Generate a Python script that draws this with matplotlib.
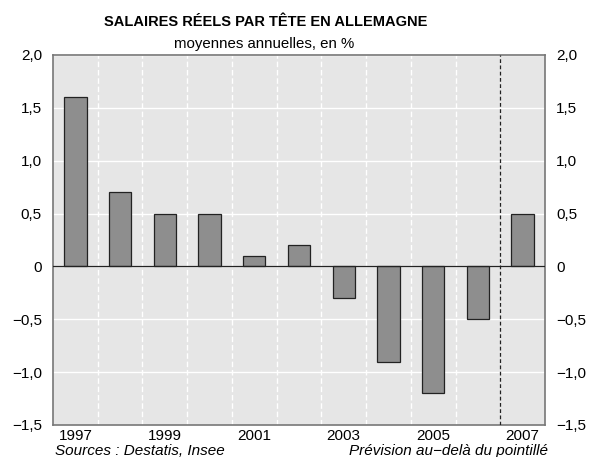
from matplotlib import pyplot as plt
import numpy as np

years = [1997, 1998, 1999, 2000, 2001, 2002, 2003, 2004, 2005, 2006, 2007]
values = [1.6, 0.7, 0.5, 0.5, 0.1, 0.2, -0.3, -0.9, -1.2, -0.5, 0.5]
yticks = [-1.5, -1.0, -0.5, 0, 0.5, 1.0, 1.5, 2.0]
ytick_labels = ["\u22121,5", "\u22121,0", "\u22120,5", "0", "0,5", "1,0", "1,5", "2,0"]

plt.rcParams['font.family'] = ['Liberation Sans', 'DejaVu Sans']

fig = plt.figure(figsize=(5.9, 4.57), dpi=100)
ax = fig.add_axes([53/590, 1 - 425/457, 492/590, 370/457])
ax.set_facecolor("#e6e6e6")

x = np.arange(len(years))
ax.bar(x, values, width=0.5, color="#8e8e8e", edgecolor="#222222", linewidth=0.9, zorder=3)
ax.axhline(0, color="#222222", linewidth=0.9, zorder=4)

for yv in yticks:
	ax.axhline(yv, color="white", linewidth=1.0, zorder=1)
for i in range(len(years) - 2):
	ax.axvline(i + 0.5, color="white", linewidth=1.0, linestyle=(0, (4, 2)), zorder=1)
ax.axvline(len(years) - 1.5, color="#222222", linewidth=0.9, linestyle=(0, (3, 2)), zorder=4)

ax.set_xlim(-0.5, len(years) - 0.5)
ax.set_ylim(-1.5, 2.0)
ax.set_yticks(yticks)
ax.set_yticklabels(ytick_labels)
ax.tick_params(axis="y", length=0, labelsize=11, pad=8, labelright=True, right=False)
ax.set_xticks(x[::2])
ax.set_xticklabels([str(y) for y in years[::2]])
ax.tick_params(axis="x", length=0, labelsize=11, pad=3)

for s in ax.spines.values():
	s.set_color("#777777")
	s.set_linewidth(1.2)

fig.text(266/590, 1 - 22/457, "SALAIRES RÉELS PAR TÊTE EN ALLEMAGNE", ha="center", va="center", fontsize=10.5, fontweight="bold")
fig.text(264/590, 1 - 44/457, "moyennes annuelles, en %", ha="center", va="center", fontsize=10.8)
fig.text(55/590, 1 - 451/457, "Sources : Destatis, Insee", ha="left", va="center", fontsize=11, style="italic")
fig.text(548/590, 1 - 451/457, "Prévision au\u2212delà du pointillé", ha="right", va="center", fontsize=11, style="italic")

fig.savefig("out.png", dpi=100)
